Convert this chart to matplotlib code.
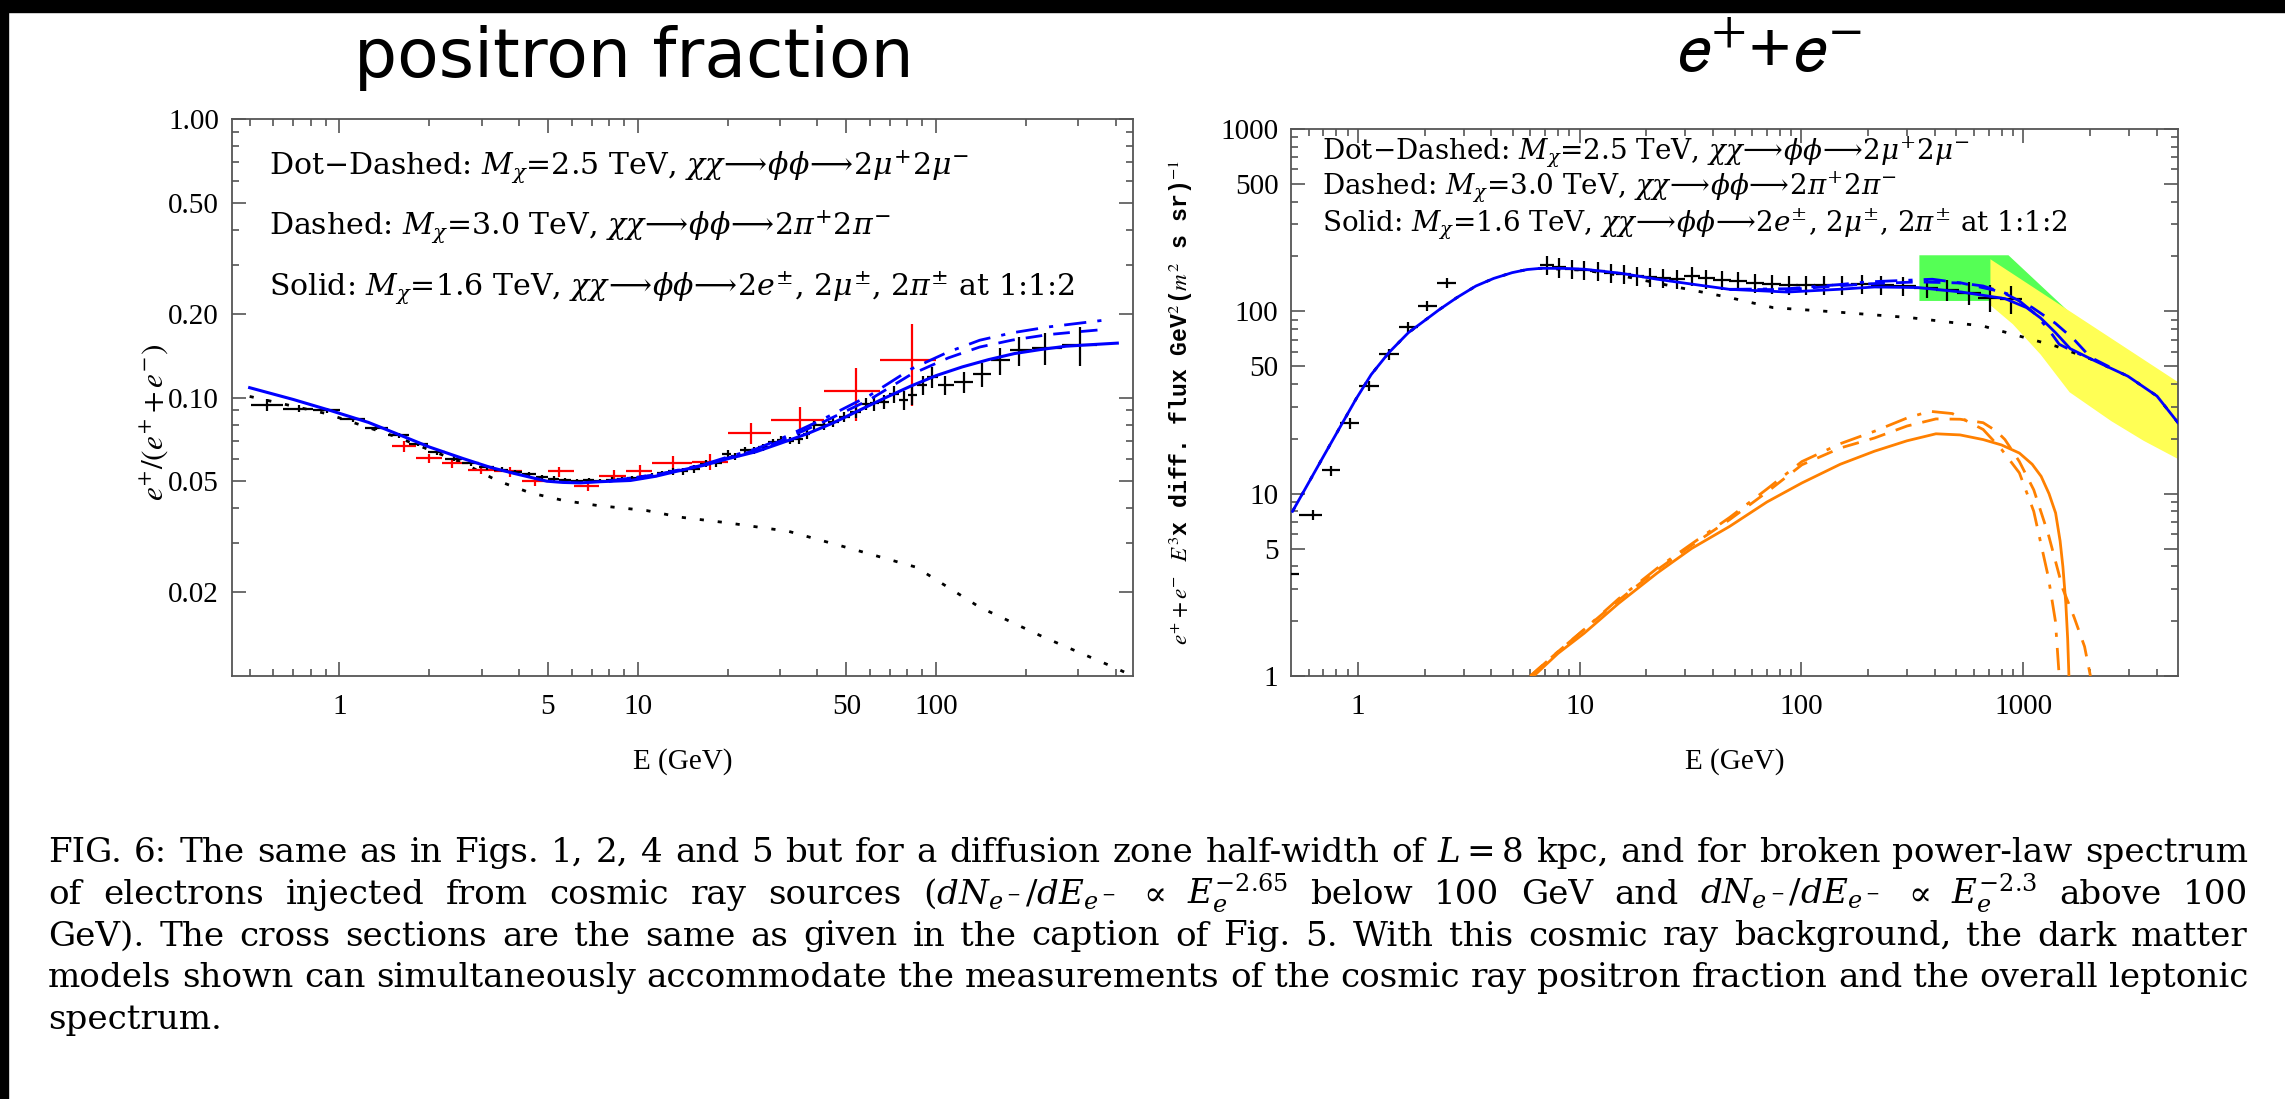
import numpy as np
import matplotlib
matplotlib.use("Agg")
import matplotlib.pyplot as plt
from matplotlib.ticker import FixedLocator, FixedFormatter, NullFormatter
from matplotlib.patches import Rectangle

plt.rcParams['font.family'] = ['Liberation Serif', 'DejaVu Serif']
plt.rcParams['mathtext.fontset'] = 'stix'

# ---------------- positron fraction panel ----------------
# black data points (E in GeV, fraction, relative error)
pf_black_E = [0.57, 0.73, 0.91, 1.11, 1.33, 1.58, 1.84, 2.12, 2.42, 2.76, 3.12, 3.50, 3.88,
              4.33, 4.77, 5.22, 5.71, 6.25, 6.84, 7.49, 8.2, 8.86, 9.57, 10.3, 11.2, 12.1,
              13.1, 14.2, 15.4, 16.9, 18.3, 20.0, 21.1, 22.9, 24.5, 26.2, 28.3, 30.3, 32.4,
              34.6, 36.8, 39.0, 42.0, 45.2, 49.3, 53.7, 58.2, 62.1, 66.8, 72.3, 77.9, 83.2,
              90.1, 96.9, 107, 124, 142, 164, 190, 232, 303]
pf_black_f = [0.0944, 0.0913, 0.0901, 0.0836, 0.078, 0.0732, 0.0684, 0.0637, 0.0604, 0.0582,
              0.0563, 0.0551, 0.054, 0.053, 0.0518, 0.0511, 0.0505, 0.050, 0.0505, 0.0502,
              0.0507, 0.0509, 0.0513, 0.0518, 0.0525, 0.0534, 0.0544, 0.0544, 0.0555, 0.0579,
              0.0582, 0.0629, 0.0615, 0.0646, 0.0646, 0.0664, 0.0692, 0.0706, 0.070, 0.0712,
              0.0742, 0.0795, 0.0795, 0.0817, 0.0852, 0.0888, 0.0952, 0.0955, 0.0965, 0.1028,
              0.0978, 0.1025, 0.1107, 0.1186, 0.1107, 0.1138, 0.1213, 0.136, 0.148, 0.1508, 0.155]
pf_black_err = [0.05, 0.03, 0.02, 0.02, 0.02, 0.02, 0.02, 0.02, 0.02, 0.02, 0.02, 0.02, 0.02,
                0.02, 0.02, 0.02, 0.02, 0.02, 0.02, 0.02, 0.02, 0.02, 0.02, 0.02, 0.02, 0.02,
                0.03, 0.03, 0.03, 0.03, 0.03, 0.03, 0.03, 0.03, 0.03, 0.03, 0.03, 0.03, 0.03,
                0.04, 0.04, 0.04, 0.04, 0.04, 0.04, 0.05, 0.05, 0.06, 0.06, 0.07, 0.08, 0.08,
                0.08, 0.09, 0.08, 0.09, 0.10, 0.11, 0.12, 0.13, 0.16]

# red data points with bin edges and asymmetric errors
pf_red_E = [1.64, 1.99, 2.38, 2.98, 3.74, 4.53, 5.43, 6.79, 8.3, 10.2, 13.1, 17.5, 24.0,
            35.1, 53.7, 83.3]
pf_red_f = [0.067, 0.0606, 0.0582, 0.0551, 0.0544, 0.050, 0.0544, 0.0483, 0.0525, 0.0546,
            0.0583, 0.0587, 0.0746, 0.0833, 0.1056, 0.136]
pf_red_edges = [1.5, 1.8, 2.2, 2.7, 3.3, 4.1, 5.0, 6.1, 7.4, 9.1, 11.2, 15.2, 20, 28, 42, 65, 100]
pf_red_hi = [0.070, 0.063, 0.0605, 0.057, 0.0565, 0.052, 0.0565, 0.0505, 0.055, 0.0575,
             0.0615, 0.063, 0.0808, 0.0925, 0.128, 0.1843]
pf_red_lo = [0.064, 0.058, 0.056, 0.053, 0.052, 0.048, 0.052, 0.0462, 0.050, 0.052,
             0.0553, 0.0548, 0.0683, 0.0746, 0.0824, 0.093]

# model curves
pf_solid_E = [0.5, 0.7, 0.93, 1.25, 1.556, 2.0, 2.6, 3.2, 3.83, 4.96, 5.6, 6.42, 7.49, 9.45,
              11.5, 13.9, 16.6, 20.0, 25.0, 30.0, 37.0, 45.0, 55.2, 67.0, 82.2, 100, 122.5,
              150, 183, 225, 272, 330, 405]
pf_solid_f = [0.1086, 0.0985, 0.090, 0.0815, 0.0742, 0.0665, 0.0604, 0.0562, 0.0535, 0.0501,
              0.0496, 0.0494, 0.0499, 0.0504, 0.0522, 0.0548, 0.0571, 0.0603, 0.064, 0.0685,
              0.0742, 0.081, 0.090, 0.0995, 0.110, 0.120, 0.129, 0.137, 0.144, 0.149, 0.153,
              0.155, 0.157]
pf_dashed_E = [8.0, 12.0, 16.6, 20.0, 25.0, 30.0, 41.1, 60.0, 82.2, 110, 140, 180, 238, 300, 364]
pf_dashed_f = [0.0501, 0.0532, 0.0573, 0.0607, 0.0648, 0.0698, 0.081, 0.0985, 0.121, 0.139,
               0.152, 0.161, 0.1685, 0.1725, 0.1757]
pf_dotdash_E = [8.0, 12.0, 16.6, 20.0, 25.0, 30.0, 41.1, 60.0, 82.2, 110, 140, 180, 238, 300, 364]
pf_dotdash_f = [0.0501, 0.0533, 0.0575, 0.0612, 0.0655, 0.071, 0.083, 0.102, 0.1265, 0.146,
                0.1608, 0.171, 0.1795, 0.185, 0.1897]
pf_bg_E = [0.5, 0.906, 1.556, 2.6, 3.37, 4.36, 5.64, 7.3, 10.7, 13.9, 20.0, 32.0, 52.3, 85.7,
           140, 230, 394, 457]
pf_bg_f = [0.101, 0.0876, 0.0722, 0.0582, 0.0504, 0.0455, 0.0427, 0.041, 0.0393, 0.0372,
           0.0355, 0.0331, 0.0286, 0.0246, 0.01766, 0.01377, 0.01075, 0.0100]

# ---------------- e+ + e- panel ----------------
lep_low_E = [0.47, 0.627, 0.757, 0.92, 1.12, 1.38, 1.69, 2.06, 2.52]
lep_low_F = [3.62, 7.67, 13.4, 24.3, 38.9, 58.0, 82.4, 107, 143.7]
lep_fermi_E = [7.12, 8.1, 9.27, 10.5, 12.1, 13.8, 15.8, 18.1, 20.7, 23.7, 27.6, 32.1, 37.3,
               44.0, 52.0, 61.8, 73.5, 88.0, 104.6, 126, 152, 187, 230, 289, 368, 454, 569,
               713, 880]
lep_fermi_F = [179.7, 174, 171.7, 168.7, 166, 163, 159.6, 156.3, 155.2, 153, 150, 156.3, 151.4,
               148.6, 146.7, 143.7, 141.9, 139, 139, 140.2, 140.2, 140.8, 140.2, 137.7, 135,
               131, 126.7, 118.9, 117.4]
lep_fermi_err = [0.12, 0.12, 0.12, 0.12, 0.12, 0.12, 0.12, 0.12, 0.12, 0.12, 0.12, 0.12, 0.12,
                 0.12, 0.12, 0.12, 0.12, 0.12, 0.12, 0.12, 0.12, 0.12, 0.12, 0.12, 0.12,
                 0.13, 0.14, 0.17, 0.18]

lep_solid_E = [0.508, 0.7, 0.98, 1.15, 1.38, 1.69, 2.34, 2.8, 3.41, 4.1, 4.97, 5.8, 6.71, 8.5,
               10.5, 15.3, 22.4, 30.2, 47.5, 86.6, 146.7, 214, 336, 528, 829, 1038, 1200,
               1403, 1633, 2043, 2970, 4020, 5000]
lep_solid_F = [8.0, 16.0, 32.9, 45.0, 59.3, 76.3, 102.5, 119, 137.7, 151.5, 163, 169.5, 172.2,
               172, 170.2, 161.8, 150, 142.5, 132, 127.6, 132, 136, 135, 127.6, 117.4, 104.8,
               92, 76.3, 62.4, 54.5, 44.1, 34.3, 24.5]
lep_dashed_E = [47.5, 86.6, 146.7, 214, 336, 528, 800, 1100, 1400, 1700, 2014, 2500]
lep_dashed_F = [132, 131.5, 138, 142, 145, 143, 128, 105, 86, 70, 56, 49]
lep_dotdash_E = [47.5, 86.6, 146.7, 198, 390, 661, 900, 1118, 1300, 1456, 1700, 2043]
lep_dotdash_F = [132, 133, 140, 145, 150, 137.7, 122, 98.4, 80, 66, 60, 54.5]
lep_bg_E = [0.508, 0.7, 0.98, 1.15, 1.38, 1.69, 2.34, 2.8, 3.41, 4.1, 4.97, 5.8, 6.71, 10.5,
            15.0, 26.0, 47.5, 74.6, 146.7, 311, 661, 1403, 2043, 2970, 4020, 5000]
lep_bg_F = [8.0, 16.0, 32.9, 45.0, 59.3, 76.3, 102.5, 119, 137.7, 151.5, 163, 169.5, 172.2,
            168, 158, 137.7, 119, 104.8, 99, 92.3, 83, 64.5, 54.5, 44.1, 34.3, 24.5]

dm_solid_E = [6.22, 8.0, 10.5, 15.0, 22.4, 32.0, 47.5, 70.0, 100.7, 150, 214, 300, 405, 520,
              661, 800, 963, 1100, 1207, 1310, 1403, 1470, 1513, 1560, 1590, 1611]
dm_solid_F = [1.0, 1.33, 1.716, 2.5, 3.67, 5.0, 6.61, 9.0, 11.45, 14.5, 17.1, 19.5, 21.3, 21.0,
              19.8, 18.5, 16.7, 14.5, 12.45, 10.0, 7.83, 5.5, 3.98, 2.5, 1.6, 1.0]
dm_dashed_E = [6.0, 8.0, 10.5, 15.0, 22.4, 32.0, 47.5, 70.0, 100.7, 150, 214, 300, 405, 520,
               661, 760, 829, 963, 1118, 1300, 1513, 1700, 1895, 2014]
dm_dashed_F = [1.0, 1.36, 1.8, 2.6, 3.82, 5.2, 7.2, 10.2, 14.4, 17.8, 20.2, 23.5, 25.7, 25.6,
               24.5, 22.0, 19.8, 15.0, 10.5, 6.0, 3.0, 2.1, 1.45, 1.0]
dm_dotdash_E = [6.0, 8.0, 10.5, 15.0, 22.4, 32.0, 47.5, 70.0, 100.7, 150, 214, 300, 380, 480,
                661, 800, 963, 1118, 1300, 1400, 1456]
dm_dotdash_F = [1.0, 1.36, 1.8, 2.65, 3.9, 5.3, 7.4, 10.6, 15.0, 18.8, 22.0, 26.0, 28.3, 27.5,
                22.5, 17.5, 13.0, 8.0, 3.5, 2.0, 1.0]

fermi_band_E = [341, 341, 860, 1758, 713]
fermi_band_F = [114, 203, 203, 90, 114]
hess_band_E = [713, 713, 5050, 5050, 3500, 2500, 1622, 1200, 900]
hess_band_F = [108, 193, 40.6, 15.4, 19.5, 25, 36, 58, 85]

caption_lines = [
    ["FIG.", "6:", "The", "same", "as", "in", "Figs.", "1,", "2,", "4", "and", "5", "but", "for",
     "a", "diffusion", "zone", "half-width", "of", r"$L=8$", "kpc,", "and", "for", "broken",
     "power-law", "spectrum"],
    ["of", "electrons", "injected", "from", "cosmic", "ray", "sources",
     r"$(dN_{e^-}/dE_{e^-}$", r"$\propto$", r"$E_e^{-2.65}$", "below", "100", "GeV", "and",
     r"$dN_{e^-}/dE_{e^-}$", r"$\propto$", r"$E_e^{-2.3}$", "above", "100"],
    ["GeV).", "The", "cross", "sections", "are", "the", "same", "as", "given", "in", "the",
     "caption", "of", "Fig.", "5.", "With", "this", "cosmic", "ray", "background,", "the",
     "dark", "matter"],
    ["models", "shown", "can", "simultaneously", "accommodate", "the", "measurements", "of",
     "the", "cosmic", "ray", "positron", "fraction", "and", "the", "overall", "leptonic"],
    ["spectrum."],
]

legend_lines = [
    r"Dot$-$Dashed: $M_\chi$=2.5 TeV, $\chi\chi\!\longrightarrow\!\phi\phi\!\longrightarrow\!2\mu^{+}2\mu^{-}$",
    r"Dashed: $M_\chi$=3.0 TeV, $\chi\chi\!\longrightarrow\!\phi\phi\!\longrightarrow\!2\pi^{+}2\pi^{-}$",
    r"Solid: $M_\chi$=1.6 TeV, $\chi\chi\!\longrightarrow\!\phi\phi\!\longrightarrow\!2e^{\pm}$, $2\mu^{\pm}$, $2\pi^{\pm}$ at 1:1:2",
]

W, H = 2285, 1099
fig = plt.figure(figsize=(W / 100, H / 100), dpi=100)
renderer = fig.canvas.get_renderer()
fig.patches.append(Rectangle((0, 1 - 12 / H), 1, 12 / H, transform=fig.transFigure,
                             color='black', zorder=0))
fig.patches.append(Rectangle((0, 0), 8 / W, 1, transform=fig.transFigure,
                             color='black', zorder=0))

ax1 = fig.add_axes([231.6 / W, 1 - 676 / H, 901.4 / W, 556.7 / H])
ax2 = fig.add_axes([1291 / W, 1 - 676 / H, 887 / W, 547 / H])

BLUE = '#0000ff'
ORANGE = '#ff8000'
SERIF = 'DejaVu Serif'


def half_widths(E, frac):
    E = np.asarray(E, dtype=float)
    lg = np.log10(E)
    d = np.diff(lg)
    dl = np.concatenate([[d[0]], d])
    dr = np.concatenate([d, [d[-1]]])
    lo = E - 10 ** (lg - frac * dl)
    hi = 10 ** (lg + frac * dr) - E
    return [lo, hi]


def fit_size(text, target_px, base=20):
    t = fig.text(0, 0, text, fontsize=base, family=SERIF, math_fontfamily='dejavuserif')
    w = t.get_window_extent(renderer).width
    t.remove()
    return base * target_px / w


def style_axis(ax, xticks, xlabels, yticks, ylabels, xminor, yminor):
    ax.set_xscale('log')
    ax.set_yscale('log')
    ax.xaxis.set_major_locator(FixedLocator(xticks))
    ax.xaxis.set_major_formatter(FixedFormatter(xlabels))
    ax.yaxis.set_major_locator(FixedLocator(yticks))
    ax.yaxis.set_major_formatter(FixedFormatter(ylabels))
    ax.xaxis.set_minor_locator(FixedLocator(xminor))
    ax.yaxis.set_minor_locator(FixedLocator(yminor))
    ax.xaxis.set_minor_formatter(NullFormatter())
    ax.yaxis.set_minor_formatter(NullFormatter())
    ax.tick_params(which='both', direction='in', top=True, right=True, color='#555555',
                   width=1.2, labelsize=21)
    ax.tick_params(which='major', length=10, pad=9)
    ax.tick_params(axis='x', which='major', pad=13)
    ax.tick_params(which='minor', length=5)
    for s in ax.spines.values():
        s.set_color('#555555')
        s.set_linewidth(1.3)


# ---- left panel ----
ax1.errorbar(pf_black_E, pf_black_f, xerr=half_widths(pf_black_E, 0.5),
             yerr=np.array(pf_black_f) * np.array(pf_black_err), fmt='none',
             ecolor='black', elinewidth=1.6, capsize=0, zorder=4)
red_E = np.array(pf_red_E)
red_xerr = [red_E - np.array(pf_red_edges[:-1]), np.array(pf_red_edges[1:]) - red_E]
red_yerr = [np.array(pf_red_f) - np.array(pf_red_lo), np.array(pf_red_hi) - np.array(pf_red_f)]
ax1.errorbar(pf_red_E, pf_red_f, xerr=red_xerr, yerr=red_yerr, fmt='none',
             ecolor='#ff0000', elinewidth=1.6, capsize=0, zorder=3)
ax1.plot(pf_bg_E, pf_bg_f, color='black', lw=2, ls=(0, (1.5, 5)), zorder=2)
ax1.plot(pf_solid_E, pf_solid_f, color=BLUE, lw=2.2, zorder=5)
ax1.plot(pf_dashed_E, pf_dashed_f, color=BLUE, lw=2, ls=(0, (6, 4)), zorder=5)
ax1.plot(pf_dotdash_E, pf_dotdash_f, color=BLUE, lw=2, ls=(0, (8, 4, 1.5, 4)), zorder=5)
ax1.set_xlim(0.435, 457)
ax1.set_ylim(0.01, 1.0)
style_axis(ax1, [1, 5, 10, 50, 100], ['1', '5', '10', '50', '100'],
           [0.02, 0.05, 0.1, 0.2, 0.5, 1.0], ['0.02', '0.05', '0.10', '0.20', '0.50', '1.00'],
           [0.5, 0.6, 0.7, 0.8, 0.9, 2, 3, 4, 6, 7, 8, 9, 20, 30, 40, 60, 70, 80, 90, 200, 300, 400],
           [0.03, 0.04, 0.06, 0.07, 0.08, 0.09, 0.3, 0.4, 0.6, 0.7, 0.8, 0.9])
ax1.set_xlabel('E (GeV)', fontsize=21)
ax1.xaxis.set_label_coords(0.5, -0.13)
ax1.set_ylabel(r'$e^{+}/(e^{+}+e^{-})$', fontsize=22.5)
ax1.yaxis.set_label_coords(-0.068, 0.455)
fs_leg1 = fit_size(legend_lines[2], 807)
for txt, yb in zip(legend_lines, [175, 235, 296]):
    fig.text(269 / W, 1 - yb / H, txt, fontsize=fs_leg1, family=SERIF,
             math_fontfamily='dejavuserif', va='baseline', ha='left')

# ---- right panel ----
ax2.fill(fermi_band_E, fermi_band_F, color='#55ff55', lw=0, zorder=1)
ax2.fill(hess_band_E, hess_band_F, color='#ffff55', lw=0, zorder=1.5)
ax2.errorbar(lep_low_E, lep_low_F, xerr=half_widths(lep_low_E, 0.5),
             yerr=np.array(lep_low_F) * 0.065, fmt='none', ecolor='black',
             elinewidth=1.6, capsize=0, zorder=4)
ax2.errorbar(lep_fermi_E, lep_fermi_F, xerr=half_widths(lep_fermi_E, 0.55),
             yerr=np.array(lep_fermi_F) * np.array(lep_fermi_err), fmt='none',
             ecolor='black', elinewidth=1.6, capsize=0, zorder=4)
ax2.plot(lep_bg_E, lep_bg_F, color='black', lw=2, ls=(0, (1.5, 5)), zorder=2)
ax2.plot(lep_solid_E, lep_solid_F, color=BLUE, lw=2, zorder=5)
ax2.plot(lep_dashed_E, lep_dashed_F, color=BLUE, lw=2, ls=(0, (6, 4)), zorder=5)
ax2.plot(lep_dotdash_E, lep_dotdash_F, color=BLUE, lw=2, ls=(0, (8, 4, 1.5, 4)), zorder=5)
ax2.plot(dm_solid_E, dm_solid_F, color=ORANGE, lw=2, zorder=5)
ax2.plot(dm_dashed_E, dm_dashed_F, color=ORANGE, lw=2, ls=(0, (6, 4)), zorder=5)
ax2.plot(dm_dotdash_E, dm_dotdash_F, color=ORANGE, lw=2, ls=(0, (8, 4, 1.5, 4)), zorder=5)
ax2.set_xlim(0.5, 5000)
ax2.set_ylim(1, 1000)
style_axis(ax2, [1, 10, 100, 1000], ['1', '10', '100', '1000'],
           [1, 5, 10, 50, 100, 500, 1000], ['1', '5', '10', '50', '100', '500', '1000'],
           [0.6, 0.7, 0.8, 0.9, 2, 3, 4, 5, 6, 7, 8, 9, 20, 30, 40, 50, 60, 70, 80, 90,
            200, 300, 400, 500, 600, 700, 800, 900, 2000, 3000, 4000],
           [2, 3, 4, 6, 7, 8, 9, 20, 30, 40, 60, 70, 80, 90, 200, 300, 400, 600, 700, 800, 900])
ax2.set_xlabel('E (GeV)', fontsize=21)
ax2.xaxis.set_label_coords(0.5, -0.132)
ax2.set_ylabel(r'$e^{+}+e^{-}$ $E^{3}$x diff. flux GeV$^{2}$($m^{2}$ s sr)$^{-1}$',
               fontsize=16.7, family='Liberation Mono', fontweight='bold')
ax2.yaxis.set_label_coords(-0.108, 0.5)
fs_leg2 = fit_size(legend_lines[2], 744)
for txt, yb in zip(legend_lines, [159, 194, 231]):
    fig.text(1321.6 / W, 1 - yb / H, txt, fontsize=fs_leg2, family=SERIF,
             math_fontfamily='dejavuserif', va='baseline', ha='left')

# ---- titles ----
fig.text(634 / W, 1 - 77 / H, 'positron fraction', fontsize=49, family='DejaVu Sans',
         ha='center', va='baseline')
fig.text(1768 / W, 1 - 72 / H, r'$e^{+}$+$e^{-}$', fontsize=52, family='Liberation Sans',
         math_fontfamily='stixsans', ha='center', va='baseline')

# ---- justified caption ----
x_left, x_right = 48, 2248
fs_cap = fit_size(" ".join(caption_lines[3]), x_right - x_left)
for i, (words, yb) in enumerate(zip(caption_lines, [862, 904, 945.5, 987, 1028.5])):
    texts = [fig.text(0, 1 - yb / H, w, fontsize=fs_cap, family=SERIF,
                      math_fontfamily='dejavuserif', va='baseline', ha='left') for w in words]
    widths = [t.get_window_extent(renderer).width for t in texts]
    if i == len(caption_lines) - 1:
        gap = 10
    else:
        gap = (x_right - x_left - sum(widths)) / (len(words) - 1)
    x = x_left
    for t, w in zip(texts, widths):
        t.set_x(x / W)
        x += w + gap

fig.savefig('out.png', dpi=100)
